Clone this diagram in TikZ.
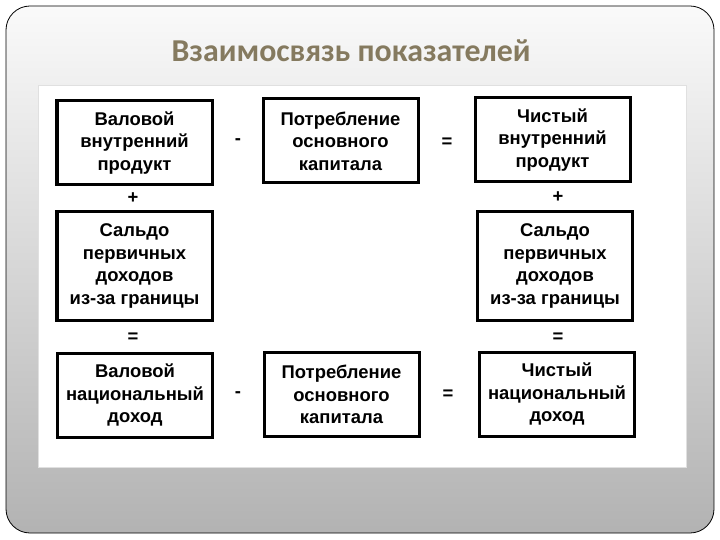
\documentclass[tikz,border=0pt]{standalone}
\usepackage{fontspec}
\setmainfont{Liberation Sans}
\newfontfamily\titlefont{Carlito}
\usepackage{tikz}
\usetikzlibrary{positioning,calc}
\usepackage{xcolor}
\definecolor{titlegray}{RGB}{133,122,95}

\begin{document}
\begin{tikzpicture}[x=1bp,y=-1bp,
  every node/.style={font=\fontsize{18.5}{22.5}\selectfont\bfseries},
  pokbox/.style={draw,line width=3bp,inner sep=0pt,align=center,
    minimum width=155bp,minimum height=84bp},
  saldobox/.style={pokbox,minimum height=108bp},
  znak/.style={inner sep=0pt}]
\useasboundingbox (0,0) rectangle (720,540);
\fill[white] (0,0) rectangle (720,540);
\shade[top color=black!2,middle color=black!6,bottom color=black!30,
  draw=black,line width=0.8bp,rounded corners=24bp] (6,6) rectangle (714,533);
\node[font=\titlefont\fontsize{32}{36}\selectfont\bfseries,text=titlegray] (title) at (351,51) {Взаимосвязь показателей};
\fill[white] (38,85) rectangle (686,467);
\draw[black!12] (38,85) rectangle (686,467);

\node[pokbox] (vvp) at (134.5,143) {Валовой\\внутренний\\продукт};
\node[pokbox] (pok1) at (340.5,141) {Потребление\\основного\\капитала};
\node[pokbox] (chvp) at (552.5,140) {Чистый\\внутренний\\продукт};
\node[saldobox] (saldo1) at (134.5,266) {Сальдо\\первичных\\доходов\\из-за границы};
\node[saldobox] (saldo2) at (555,266) {Сальдо\\первичных\\доходов\\из-за границы};
\node[pokbox] (vnd) at (135,395) {Валовой\\национальный\\доход};
\node[pokbox] (pok2) at (341.5,394.5) {Потребление\\основного\\капитала};
\node[pokbox] (chnd) at (557,394) {Чистый\\национальный\\доход};

\node[znak] (minus1) at (238,142) {-};
\node[znak] (ravno1) at (447,143) {=};
\node[znak] (plus1) at (133,198) {+};
\node[znak] (plus2) at (558,197) {+};
\node[znak] (ravno2) at (133,338) {=};
\node[znak] (ravno3) at (558,338) {=};
\node[znak] (minus2) at (238,395) {-};
\node[znak] (ravno4) at (448,395) {=};
\end{tikzpicture}
\end{document}
